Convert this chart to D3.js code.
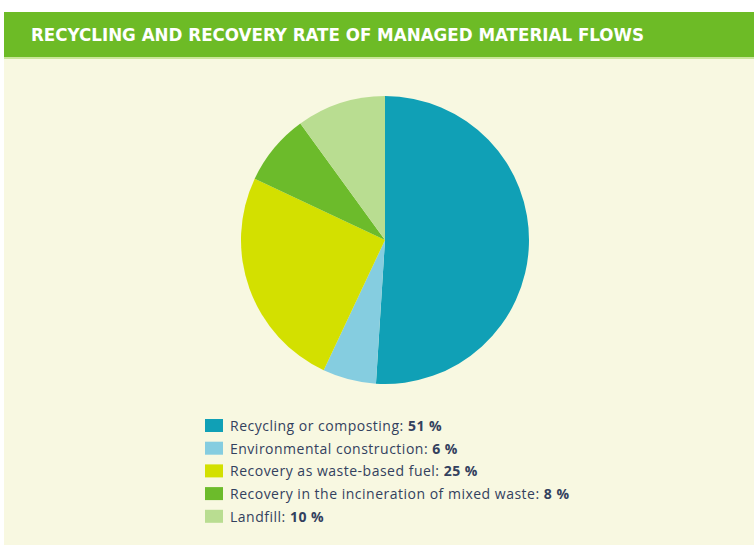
<!DOCTYPE html>
<meta charset="utf-8">
<script src="https://d3js.org/d3.v7.min.js"></script>
<style>
  body { margin: 0; background: #fff; }
</style>
<body>
<div id="draw"></div>
</body>
<script>

  var categories = ["Recycling or composting", "Environmental construction", "Recovery as waste-based fuel", "Recovery in the incineration of mixed waste", "Landfill"];
  var values = [51, 6, 25, 8, 10];
  var colours = ["#10a0b6", "#85cde0", "#d3e000", "#6cbb2b", "#b9dd91"];
  var title = "RECYCLING AND RECOVERY RATE OF MANAGED MATERIAL FLOWS";

  var width = 754, height = 545;
  var center = {x: 385, y: 240};
  var radius = 144;

  var svg = d3.select("#draw").append("svg")
    .attr("width", width).attr("height", height);

  // cream background
  svg.append("rect").attr("x", 4).attr("y", 12).attr("width", width).attr("height", height)
    .attr("fill", "#f8f8e1");

  // header band
  svg.append("rect").attr("x", 4).attr("y", 12).attr("width", width).attr("height", 45)
    .attr("fill", "#6dbb26");
  svg.append("rect").attr("x", 4).attr("y", 57).attr("width", width).attr("height", 2)
    .attr("fill", "#c9e69a");

  svg.append("text")
    .attr("x", 31).attr("y", 41)
    .attr("fill", "#fff")
    .attr("font-family", "'DejaVu Sans Condensed', sans-serif")
    .attr("font-weight", "bold")
    .attr("font-size", 18)
    .attr("textLength", 613)
    .attr("lengthAdjust", "spacingAndGlyphs")
    .text(title);

  var pie = d3.pie().sort(null).value(function(d){ return d; });
  var arc = d3.arc().innerRadius(0).outerRadius(radius);

  var chart = svg.append("g")
    .attr("transform", "translate(" + center.x + "," + center.y + ")");

  chart.selectAll("path").data(pie(values)).enter().append("path")
    .attr("d", arc)
    .attr("fill", function(d, i){ return colours[i]; });

  // legend
  var legend = svg.append("g").attr("transform", "translate(205,419)");
  var rowH = 22.7;

  var rows = legend.selectAll("g").data(categories).enter().append("g")
    .attr("transform", function(d, i){ return "translate(0," + (i * rowH) + ")"; });

  rows.append("rect")
    .attr("width", 18).attr("height", 13)
    .attr("fill", function(d, i){ return colours[i]; });

  var txt = rows.append("text")
    .attr("x", 25).attr("y", 12)
    .attr("fill", "#33415e")
    .attr("font-family", "'Open Sans', sans-serif")
    .attr("font-size", 14)
    .attr("letter-spacing", 0.5);
  txt.append("tspan").text(function(d){ return d + ": "; });
  txt.append("tspan").attr("font-weight", "bold")
    .text(function(d, i){ return values[i] + " %"; });

</script>
